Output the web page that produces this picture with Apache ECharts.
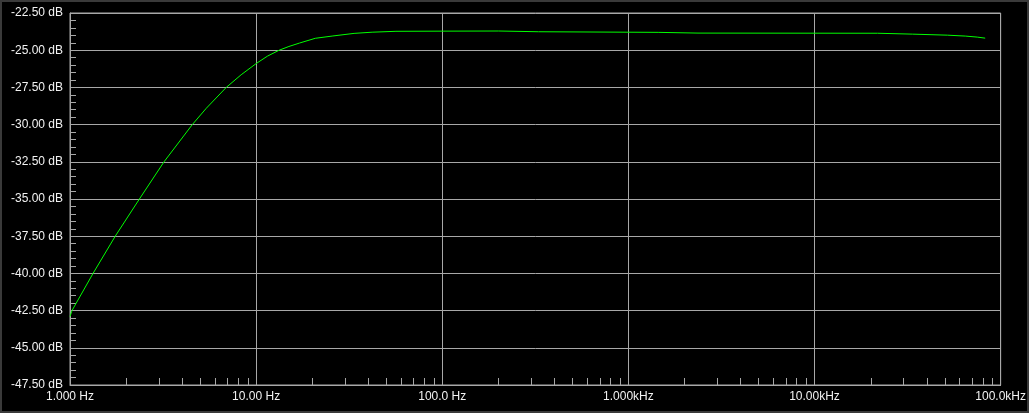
<!DOCTYPE html>
<html>
<head>
<meta charset="utf-8">
<script src="https://cdn.jsdelivr.net/npm/echarts@6/dist/echarts.min.js"></script>
<style>
html,body{margin:0;padding:0;background:#000;}
#wrap{position:relative;width:1029px;height:413px;}
#chart{width:1029px;height:413px;}
#frame{position:absolute;left:0;top:0;width:1029px;height:413px;box-sizing:border-box;border:2px solid #3a3a3a;pointer-events:none;}
</style>
</head>
<body>
<div id="wrap"><div id="chart"></div><div id="frame"></div></div>
<script>
// Frequency response (Hz, dB)
const freqs = [1.0, 1.025, 1.33, 1.75, 2.36, 3.2, 4.54, 5.40, 6.91, 8.31, 10.0, 11.5, 13.3, 15.0, 17.1, 20.8, 25.6, 33.6, 42.0, 56.4, 99.5, 201, 329, 1445, 2366, 21800, 33570, 51700, 64570, 74850, 82600];
const gains = [-42.9, -42.5, -40.0, -37.5, -35.0, -32.5, -30.0, -28.9, -27.5, -26.65, -25.9, -25.4, -25.0, -24.75, -24.52, -24.2, -24.05, -23.87, -23.79, -23.73, -23.72, -23.71, -23.76, -23.8, -23.85, -23.86, -23.92, -23.99, -24.05, -24.12, -24.19];
const xTickLabels = {1: '1.000 Hz', 10: '10.00 Hz', 100: '100.0 Hz', 1000: '1.000kHz', 10000: '10.00kHz', 100000: '100.0kHz'};
const yMin = -47.5, yMax = -22.5, yStep = 2.5;
const minorFreqs = [];
[1, 10, 100, 1000, 10000].forEach(d => { for (let m = 2; m <= 9; m++) minorFreqs.push(m * d); });

const gridColor = '#a8a8a8';
const textColor = '#f2f2f2';
const chart = echarts.init(document.getElementById('chart'));
chart.setOption({
  backgroundColor: '#000',
  animation: false,
  grid: {left: 70, right: 25, top: 13, bottom: 28, show: true, borderColor: gridColor, borderWidth: 1, containLabel: false},
  xAxis: {
    type: 'log', logBase: 10, min: 1, max: 100000,
    axisLine: {show: true, lineStyle: {color: gridColor}},
    axisTick: {show: false},
    splitLine: {show: true, lineStyle: {color: gridColor, width: 1}},
    axisLabel: {
      color: textColor, fontFamily: 'Liberation Sans', fontSize: 12, margin: 6,
      formatter: v => xTickLabels[Math.round(v)] || ''
    }
  },
  yAxis: {
    type: 'value', min: yMin, max: yMax, interval: yStep,
    axisLine: {show: true, lineStyle: {color: gridColor}},
    axisTick: {show: false, inside: true},
    minorTick: {show: true, splitNumber: 5, length: 6, lineStyle: {color: gridColor}},
    splitLine: {show: true, lineStyle: {color: gridColor, width: 1}},
    axisLabel: {
      color: textColor, fontFamily: 'Liberation Sans', fontSize: 12, margin: 7,
      formatter: v => v.toFixed(2) + ' dB'
    }
  },
  series: [
    {
      type: 'line',
      data: freqs.map((f, i) => [f, gains[i]]),
      showSymbol: false, symbol: 'none',
      smooth: false,
      lineStyle: {color: '#00ff00', width: 1},
      silent: true
    },
    {
      type: 'custom',
      data: minorFreqs.map(f => [f, yMin]),
      silent: true,
      clip: false,
      renderItem: (params, api) => {
        const p = api.coord([api.value(0), yMin]);
        const x = Math.round(p[0]) + 0.5;
        return {type: 'line', shape: {x1: x, y1: p[1], x2: x, y2: p[1] - 7}, style: {stroke: gridColor, lineWidth: 1}};
      }
    }
  ]
});
</script>
</body>
</html>
